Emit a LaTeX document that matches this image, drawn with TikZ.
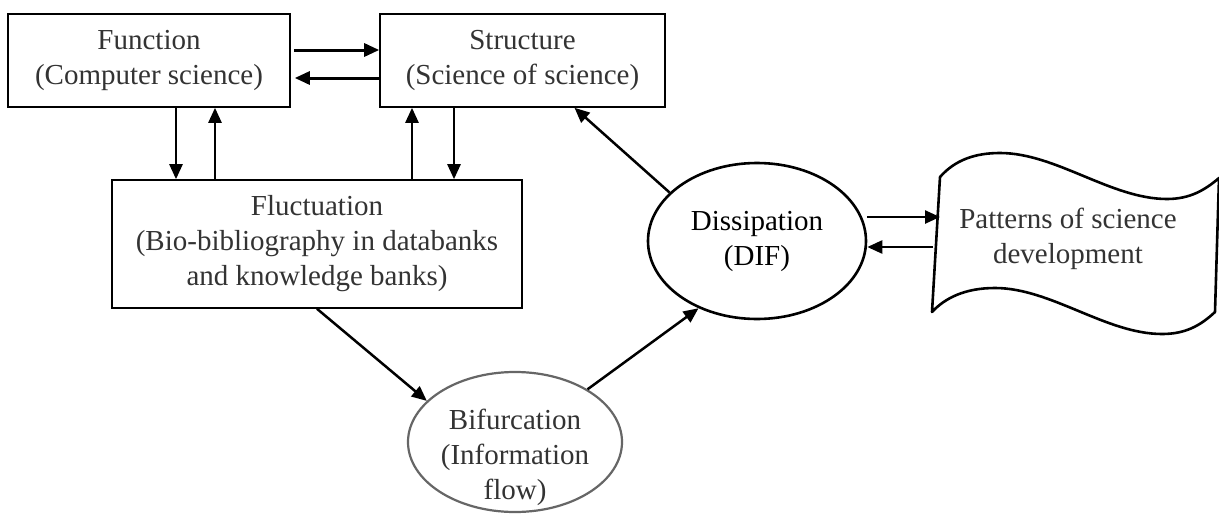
\documentclass[tikz,border=0pt]{standalone}
\usepackage{fontspec}
\setmainfont{Liberation Serif}
\usetikzlibrary{shapes.geometric,arrows.meta}

\begin{document}
\begin{tikzpicture}[x=1pt,y=-1pt,
  every node/.append style={font=\fontsize{29}{35}\selectfont},
  box/.style={rectangle,draw,line width=1.6pt,align=center,text=black!80,inner sep=0pt},
  oval/.style={ellipse,draw,line width=2.6pt,align=center,inner sep=0pt},
  txt/.style={align=center,text=black!80,inner sep=0pt},
  arr/.style={line width=2.5pt,-{Triangle[length=15pt,width=13pt]}}]
\path[fill=white,use as bounding box] (0,0) rectangle (1219,517);
\node [box,minimum width=282pt,minimum height=93pt] (func) at (149,60.5) {Function\\(Computer science)};
\node [box,minimum width=285pt,minimum height=93pt] (struct) at (522.5,60.5) {Structure\\(Science of science)};
\node [box,minimum width=410pt,minimum height=128pt] (fluct) at (317,244) {Fluctuation\\(Bio-bibliography in databanks\\and knowledge banks)};
\node [oval,minimum width=218pt,minimum height=156pt,text=black] (diss) at (757,241) {Dissipation\\(DIF)};
\node [oval,draw=black!60,line width=2.2pt,minimum width=214pt,minimum height=140pt] (bif) at (515,442) {};
\node [txt] (biftxt) at ([yshift=-15pt]bif.center) {Bifurcation\\(Information\\flow)};
\node [txt] (pat) at (1068,239) {Patterns of science\\development};
\draw [line width=2.6pt,line join=round] (932,312) -- (940,177)
  .. controls (955,160) and (975,153) .. (1000,153)
  .. controls (1056,153) and (1111,199) .. (1167,199)
  .. controls (1190,199) and (1205,190) .. (1219,178) -- (1215,312)
  .. controls (1200,326) and (1185,334) .. (1162,334)
  .. controls (1106,334) and (1051,288) .. (995,288)
  .. controls (965,288) and (945,298) .. cycle;
\draw [arr,line width=3pt] ([shift={(3pt,10.5pt)}]func.east) -- ([yshift=10.5pt]struct.west);
\draw [arr,line width=3pt] ([yshift=-17.5pt]struct.west) -- ([shift={(4pt,-17.5pt)}]func.east);
\draw [arr] ([xshift=27pt]func.south) -- ([xshift=-141pt]fluct.north);
\draw [arr] ([xshift=-102pt]fluct.north) -- ([xshift=66pt]func.south);
\draw [arr] ([xshift=95pt]fluct.north) -- ([xshift=-110.5pt]struct.south);
\draw [arr] ([xshift=-68.5pt]struct.south) -- ([xshift=137pt]fluct.north);
\draw [arr] (fluct.south) -- (bif.155);
\draw [arr] (bif.36) -- (diss.229);
\draw [arr] (diss.151) -- ([xshift=52pt]struct.south);
\draw [arr] ([yshift=24pt]diss.east) -- ([shift={(-128pt,22pt)}]pat.center);
\draw [arr] ([shift={(-135pt,-8pt)}]pat.center) -- ([yshift=-6pt]diss.east);
\end{tikzpicture}
\end{document}
